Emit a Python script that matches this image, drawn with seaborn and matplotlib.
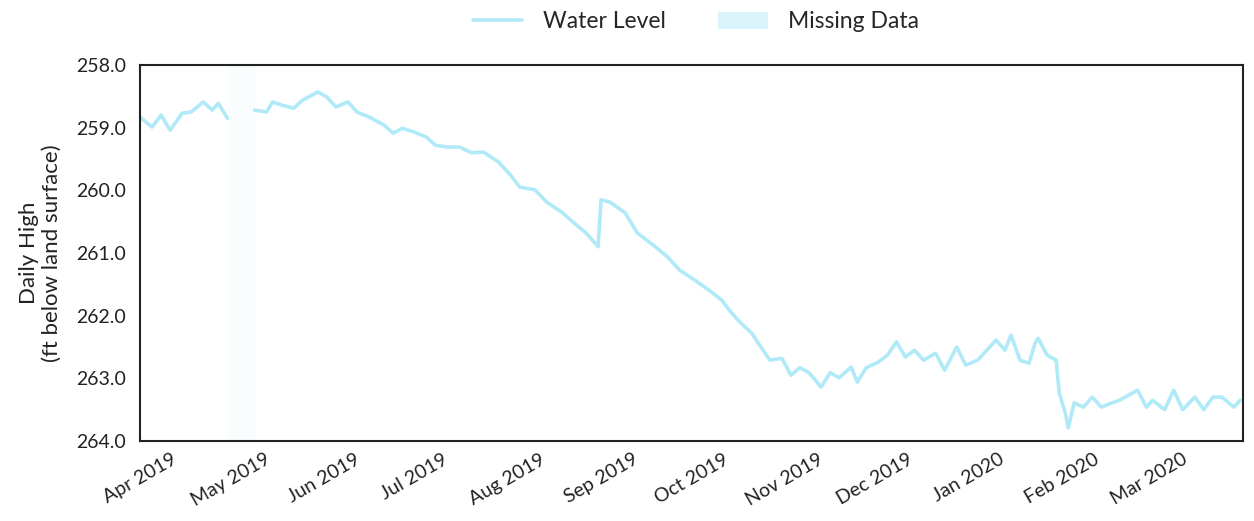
import matplotlib
matplotlib.use("Agg")
import matplotlib.pyplot as plt
import matplotlib.dates as mdates
from matplotlib.lines import Line2D
from matplotlib.patches import Patch
import seaborn as sns
import pandas as pd

dates_a = ["2019-04-01", "2019-04-05", "2019-04-08", "2019-04-11", "2019-04-15",
           "2019-04-18", "2019-04-22", "2019-04-25", "2019-04-27", "2019-04-30"]
level_a = [258.83, 258.99, 258.80, 259.04, 258.77, 258.75, 258.59, 258.72, 258.61, 258.85]

dates_b = ["2019-05-09", "2019-05-13", "2019-05-15", "2019-05-18", "2019-05-22",
           "2019-05-25", "2019-05-30", "2019-06-02", "2019-06-05", "2019-06-09",
           "2019-06-12", "2019-06-16", "2019-06-21", "2019-06-24", "2019-06-27",
           "2019-07-01", "2019-07-05", "2019-07-08", "2019-07-12", "2019-07-16",
           "2019-07-20", "2019-07-24", "2019-07-29", "2019-08-02", "2019-08-05",
           "2019-08-10", "2019-08-14", "2019-08-19", "2019-08-23", "2019-08-27",
           "2019-08-31", "2019-09-01", "2019-09-04", "2019-09-09", "2019-09-13",
           "2019-09-19", "2019-09-23", "2019-09-27", "2019-10-02", "2019-10-07",
           "2019-10-11", "2019-10-14", "2019-10-17", "2019-10-21", "2019-10-24",
           "2019-10-27", "2019-10-31", "2019-11-03", "2019-11-06", "2019-11-09",
           "2019-11-13", "2019-11-16", "2019-11-19", "2019-11-23", "2019-11-25",
           "2019-11-28", "2019-12-02", "2019-12-05", "2019-12-08", "2019-12-11",
           "2019-12-14", "2019-12-17", "2019-12-21", "2019-12-24", "2019-12-28",
           "2019-12-31", "2020-01-04", "2020-01-07", "2020-01-10", "2020-01-13",
           "2020-01-15", "2020-01-18", "2020-01-21", "2020-01-23", "2020-01-24",
           "2020-01-27", "2020-01-30", "2020-01-31", "2020-02-02", "2020-02-03",
           "2020-02-05", "2020-02-08", "2020-02-11", "2020-02-14", "2020-02-16",
           "2020-02-20", "2020-02-23", "2020-02-26", "2020-02-29", "2020-03-02",
           "2020-03-06", "2020-03-09", "2020-03-12", "2020-03-16", "2020-03-19",
           "2020-03-22", "2020-03-25", "2020-03-29", "2020-03-31"]
level_b = [258.72, 258.75, 258.59, 258.64, 258.69,
           258.56, 258.43, 258.51, 258.67, 258.59,
           258.75, 258.83, 258.96, 259.09, 259.01,
           259.07, 259.15, 259.28, 259.31, 259.31,
           259.40, 259.39, 259.55, 259.76, 259.95,
           259.99, 260.19, 260.35, 260.52, 260.68,
           260.90, 260.15, 260.19, 260.36, 260.68,
           260.90, 261.06, 261.27, 261.43, 261.60,
           261.75, 261.94, 262.10, 262.28, 262.50,
           262.71, 262.68, 262.95, 262.83, 262.91,
           263.14, 262.91, 262.99, 262.82, 263.06,
           262.83, 262.74, 262.63, 262.42, 262.66,
           262.55, 262.71, 262.60, 262.87, 262.50,
           262.79, 262.71, 262.55, 262.39, 262.55,
           262.31, 262.71, 262.76, 262.44, 262.36,
           262.63, 262.71, 263.23, 263.55, 263.79,
           263.39, 263.46, 263.30, 263.46, 263.42,
           263.35, 263.27, 263.19, 263.46, 263.35,
           263.50, 263.19, 263.50, 263.30, 263.50,
           263.30, 263.30, 263.46, 263.35]

missing_start = "2019-04-30"
missing_end = "2019-05-09"
y_ticks = [258.0, 259.0, 260.0, 261.0, 262.0, 263.0, 264.0]
x_ticks = pd.date_range("2019-04-01", "2020-03-01", freq="MS")

df = pd.DataFrame({
    "date": pd.to_datetime(dates_a + dates_b),
    "level": level_a + level_b,
    "segment": ["a"] * len(dates_a) + ["b"] * len(dates_b),
})

sns.set_theme(style="white")
plt.rcParams["font.family"] = ["Lato", "DejaVu Sans"]

fig = plt.figure(figsize=(12.54, 5.21), dpi=100)
ax = fig.add_axes([140 / 1254, 1 - 441 / 521, (1243 - 140) / 1254, (441 - 65) / 521])

line_color = "#b0eaf8"
miss_color = "#d9f5fb"

ax.axvspan(pd.Timestamp(missing_start), pd.Timestamp(missing_end), color=miss_color, alpha=0.12, lw=0)
sns.lineplot(data=df, x="date", y="level", units="segment", estimator=None,
             color=line_color, linewidth=2.6, ax=ax, legend=False)

ax.set_xlim(pd.Timestamp("2019-04-01"), pd.Timestamp("2020-04-01"))
ax.set_ylim(264.0, 258.0)
ax.set_yticks(y_ticks)
ax.set_yticklabels([f"{v:.1f}" for v in y_ticks])
ax.set_xticks(x_ticks)
ax.xaxis.set_major_formatter(mdates.DateFormatter("%b %Y"))
for lbl in ax.get_xticklabels():
    lbl.set_rotation(30)
    lbl.set_ha("center")
ax.tick_params(axis="both", labelsize=14, length=0, colors="#222222")
ax.tick_params(axis="y", pad=10)
ax.tick_params(axis="x", pad=7)
ax.set_xlabel("")
ax.set_ylabel("Daily High\n(ft below land surface)", fontsize=16, color="#222222", labelpad=10)
for s in ax.spines.values():
    s.set_color("#222222")
    s.set_linewidth(1.5)

handles = [Line2D([0], [0], color=line_color, lw=2.6),
           Patch(facecolor=miss_color, edgecolor="none")]
fig.legend(handles, ["Water Level", "Missing Data"], loc="center",
           bbox_to_anchor=(696 / 1254, 1 - 22 / 521), ncol=2,
           frameon=False, fontsize=16.5, handlelength=2.15, columnspacing=2.3,
           handletextpad=0.9)

fig.savefig("out.png", dpi=100)
